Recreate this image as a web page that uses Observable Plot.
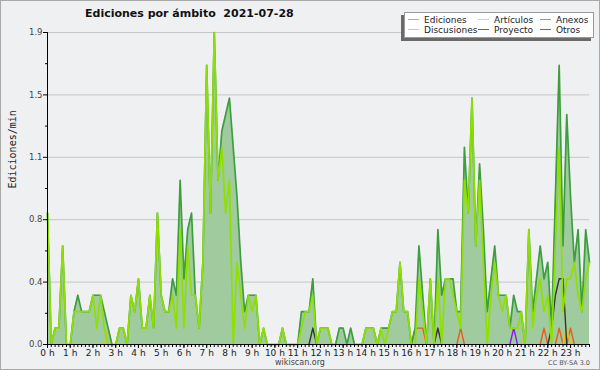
<!DOCTYPE html>
<html>
<head>
<meta charset="utf-8">
<script src="https://cdn.jsdelivr.net/npm/d3@7"></script>
<script src="https://cdn.jsdelivr.net/npm/@observablehq/plot@0.6"></script>
<style>
  html, body { margin: 0; padding: 0; background: #eff0f2; }
  #wrap { position: relative; width: 600px; height: 370px; background: #eff0f2; overflow: hidden; font-family: "DejaVu Sans", sans-serif; }
  #wrap svg { position: absolute; left: 0; top: 0; }
  .abs { position: absolute; line-height: 1; white-space: pre; color: #222; }
  #border { position: absolute; left: 0; top: 0; width: 600px; height: 370px; box-sizing: border-box; border: 1px solid #a9a9a9; pointer-events: none; }
  #legend { position: absolute; left: 404px; top: 12px; width: 190px; height: 26px; box-sizing: border-box; background: #fff; border: 1px solid #9a9a9a; box-shadow: -3px 3px 0 #6a6a6a; }
  .sw { position: absolute; height: 0; width: 11px; border-top: 1px solid; }
  .lt { position: absolute; font-size: 9px; line-height: 1; color: #222; white-space: pre; }
</style>
</head>
<body>
<div id="wrap">
  <div class="abs" style="left:85px;top:8px;font-size:11px;font-weight:bold;color:#111;">Ediciones por ámbito  2021-07-28</div>
  <div id="legend"></div>
  <div class="abs" style="left:250px;width:100px;text-align:center;top:359px;font-size:8px;color:#444;">wikiscan.org</div>
  <div class="abs" style="left:490px;width:100px;text-align:right;top:360px;font-size:6.5px;color:#555;">CC BY-SA 3.0</div>
  <div id="border"></div>
</div>
<script>
// 10-minute slots of 2021-07-28 (0 = 00:00, 143 = 23:50)
const slots = d3.range(144);
const hourLabels = d3.range(24).map(h => `${h} h`);
const yTicks = [0, 0.38, 0.76, 1.14, 1.52, 1.9];
const yMinorTicks = [0.19, 0.57, 0.95, 1.33, 1.71];

// Ediciones (all namespaces), edits per minute
const ediciones = [
  0.8,0,0.1,0.1,0.6,0,0,0.2,0.3,0.2,0.2,0.2,
  0.3,0.3,0.3,0.2,0.1,0,0,0.1,0.1,0,0.3,0.2,
  0.4,0.1,0.1,0.3,0.1,0.8,0.3,0.2,0.2,0.4,0.3,1.0,
  0.4,0.7,0.8,0.3,0.1,0.5,1.7,0.8,1.9,1.0,1.3,1.4,
  1.5,1.2,0.9,0.5,0.2,0.3,0.3,0.3,0,0.1,0,0,
  0,0,0.1,0,0,0,0,0.2,0.2,0.2,0.4,0,
  0.1,0.1,0.1,0,0,0.1,0.1,0,0.1,0,0,0,
  0.1,0.1,0.1,0,0.1,0.1,0.1,0.2,0.2,0.5,0.2,0.2,
  0,0.1,0.6,0.3,0,0.4,0,0.7,0.3,0.4,0.4,0.4,
  0.2,0.2,1.2,0.8,1.5,0.6,1.1,0.7,0.2,0.4,0.6,0.3,
  0.3,0.3,0.1,0.3,0.2,0.2,0,0.7,0.2,0.4,0.6,0.4,
  0.5,0.1,0.9,1.7,0.6,1.4,0.9,0.5,0.7,0.2,0.7,0.5
];
// Artículos
const articulos = [
  0.8,0,0.1,0.1,0.6,0,0,0.2,0.2,0.2,0.2,0.2,
  0.3,0.1,0.3,0.1,0,0,0,0.1,0.1,0,0.3,0.2,
  0.4,0.1,0.1,0.3,0.1,0.8,0.3,0.2,0.2,0.3,0.1,0.7,
  0.1,0.6,0.3,0.3,0.1,0.5,1.7,0.8,1.9,1.0,1.2,0.8,
  1.0,0,0.5,0.3,0.1,0.3,0.2,0.3,0,0.1,0,0,
  0,0,0.1,0,0,0,0,0.1,0.2,0.2,0.3,0,
  0.1,0.1,0.1,0,0,0,0,0,0,0,0,0,
  0.1,0.1,0.1,0,0.1,0,0.1,0.2,0.2,0.5,0.2,0.2,
  0,0,0.4,0.2,0,0.4,0,0.4,0,0.4,0.4,0.3,
  0.2,0.1,1.0,0.8,1.5,0.6,1.0,0.5,0,0.3,0.5,0.3,
  0.2,0.3,0.1,0.1,0.1,0.2,0,0.7,0.1,0.3,0.4,0.2,
  0.3,0,0.6,1.2,0.2,0.4,0.4,0.5,0.3,0.2,0.4,0.5
];
// Small series: [slot, value] for the non-zero slots only
const anexos      = [[97,0.1],[98,0.1],[99,0.1],[109,0.1],[131,0.1],[135,0.1],[138,0.1]];
const discusiones = [[16,0.1],[137,0.1]];
const proyecto    = [[70,0.1],[103,0.1],[133,0.1],[134,0.3],[135,0.4],[136,0.4]];
const otros       = [[123,0.1]];

const legendItems = [
  {name: "Ediciones",   color: "#86c886", col: 0, row: 0},
  {name: "Artículos",   color: "#c6ee55", col: 1, row: 0},
  {name: "Anexos",      color: "#ee7a4a", col: 2, row: 0},
  {name: "Discusiones", color: "#f0cc44", col: 0, row: 1},
  {name: "Proyecto",    color: "#666666", col: 1, row: 1},
  {name: "Otros",       color: "#9044e0", col: 2, row: 1}
];

const main = slots.map(i => ({i, ed: ediciones[i], art: articulos[i]}));

function sparseSeries(pairs) {
  const v = new Array(144).fill(0);
  for (const [s, val] of pairs) v[s] = val;
  return slots.map(i => {
    const near = v[i] > 0 || (i > 0 && v[i-1] > 0) || (i < 143 && v[i+1] > 0);
    return {i, y: near ? v[i] : NaN};
  });
}

const minorSeries = [
  {pairs: anexos, color: "#ee5a1a"},
  {pairs: discusiones, color: "#f2c000"},
  {pairs: proyecto, color: "#333333"},
  {pairs: otros, color: "#8a1ee6"}
];

const font = "DejaVu Sans";

const chart = Plot.plot({
  width: 600,
  height: 370,
  marginLeft: 47,
  marginRight: 11,
  marginTop: 32,
  marginBottom: 26,
  style: {background: "transparent", fontFamily: font, overflow: "visible"},
  x: {domain: [0, 143], axis: null},
  y: {domain: [0, 1.9], axis: null},
  marks: [
    Plot.gridY(yTicks.slice(1), {stroke: "#c6c6c6", strokeOpacity: 1}),
    Plot.areaY(main, {x: "i", y: "ed", fill: "#9fcb9f", curve: "linear"}),
    ...minorSeries.map(s => Plot.lineY(sparseSeries(s.pairs), {x: "i", y: "y", stroke: s.color, strokeWidth: 1.4})),
    Plot.lineY(main, {x: "i", y: "ed", stroke: "#3c9e3c", strokeWidth: 1.7}),
    Plot.lineY(main, {x: "i", y: "art", stroke: "#8fe000", strokeWidth: 1.7}),
    Plot.ruleY([0], {stroke: "#000", strokeWidth: 1.2}),
    Plot.ruleX([0], {stroke: "#000", strokeWidth: 1}),
    Plot.axisY(yTicks, {anchor: "left", label: null, tickSize: 4, tickPadding: 1, tickFormat: d3.format(".1f"), fontSize: 8.5, fill: "#444", stroke: "#000"}),
    Plot.axisY(yMinorTicks, {anchor: "left", label: null, tickSize: 2, tickFormat: () => "", stroke: "#000"}),
    Plot.axisX(slots, {anchor: "bottom", label: null, tickSize: 3, tickFormat: () => "", stroke: "#000"}),
    Plot.axisX(slots.filter(i => i % 6 === 0), {anchor: "bottom", label: null, tickSize: 4, tickPadding: 1, tickFormat: i => hourLabels[i / 6], fontSize: 9, fill: "#222", stroke: "#000"}),
    Plot.text(["Ediciones/min"], {frameAnchor: "left", dx: -35, rotate: -90, fontSize: 10, fontFamily: "DejaVu Sans Mono", fill: "#222"})
  ]
});
document.getElementById("wrap").insertBefore(chart, document.getElementById("legend"));

// legend
const legend = document.getElementById("legend");
const colX = [3, 73, 135];
legendItems.forEach(it => {
  const sw = document.createElement("div");
  sw.className = "sw";
  sw.style.left = colX[it.col] + "px";
  sw.style.top = (6 + it.row * 10) + "px";
  sw.style.borderColor = it.color;
  legend.appendChild(sw);
  const t = document.createElement("div");
  t.className = "lt";
  t.textContent = it.name;
  t.style.left = (colX[it.col] + 16) + "px";
  t.style.top = (2.5 + it.row * 10) + "px";
  legend.appendChild(t);
});
</script>
</body>
</html>
